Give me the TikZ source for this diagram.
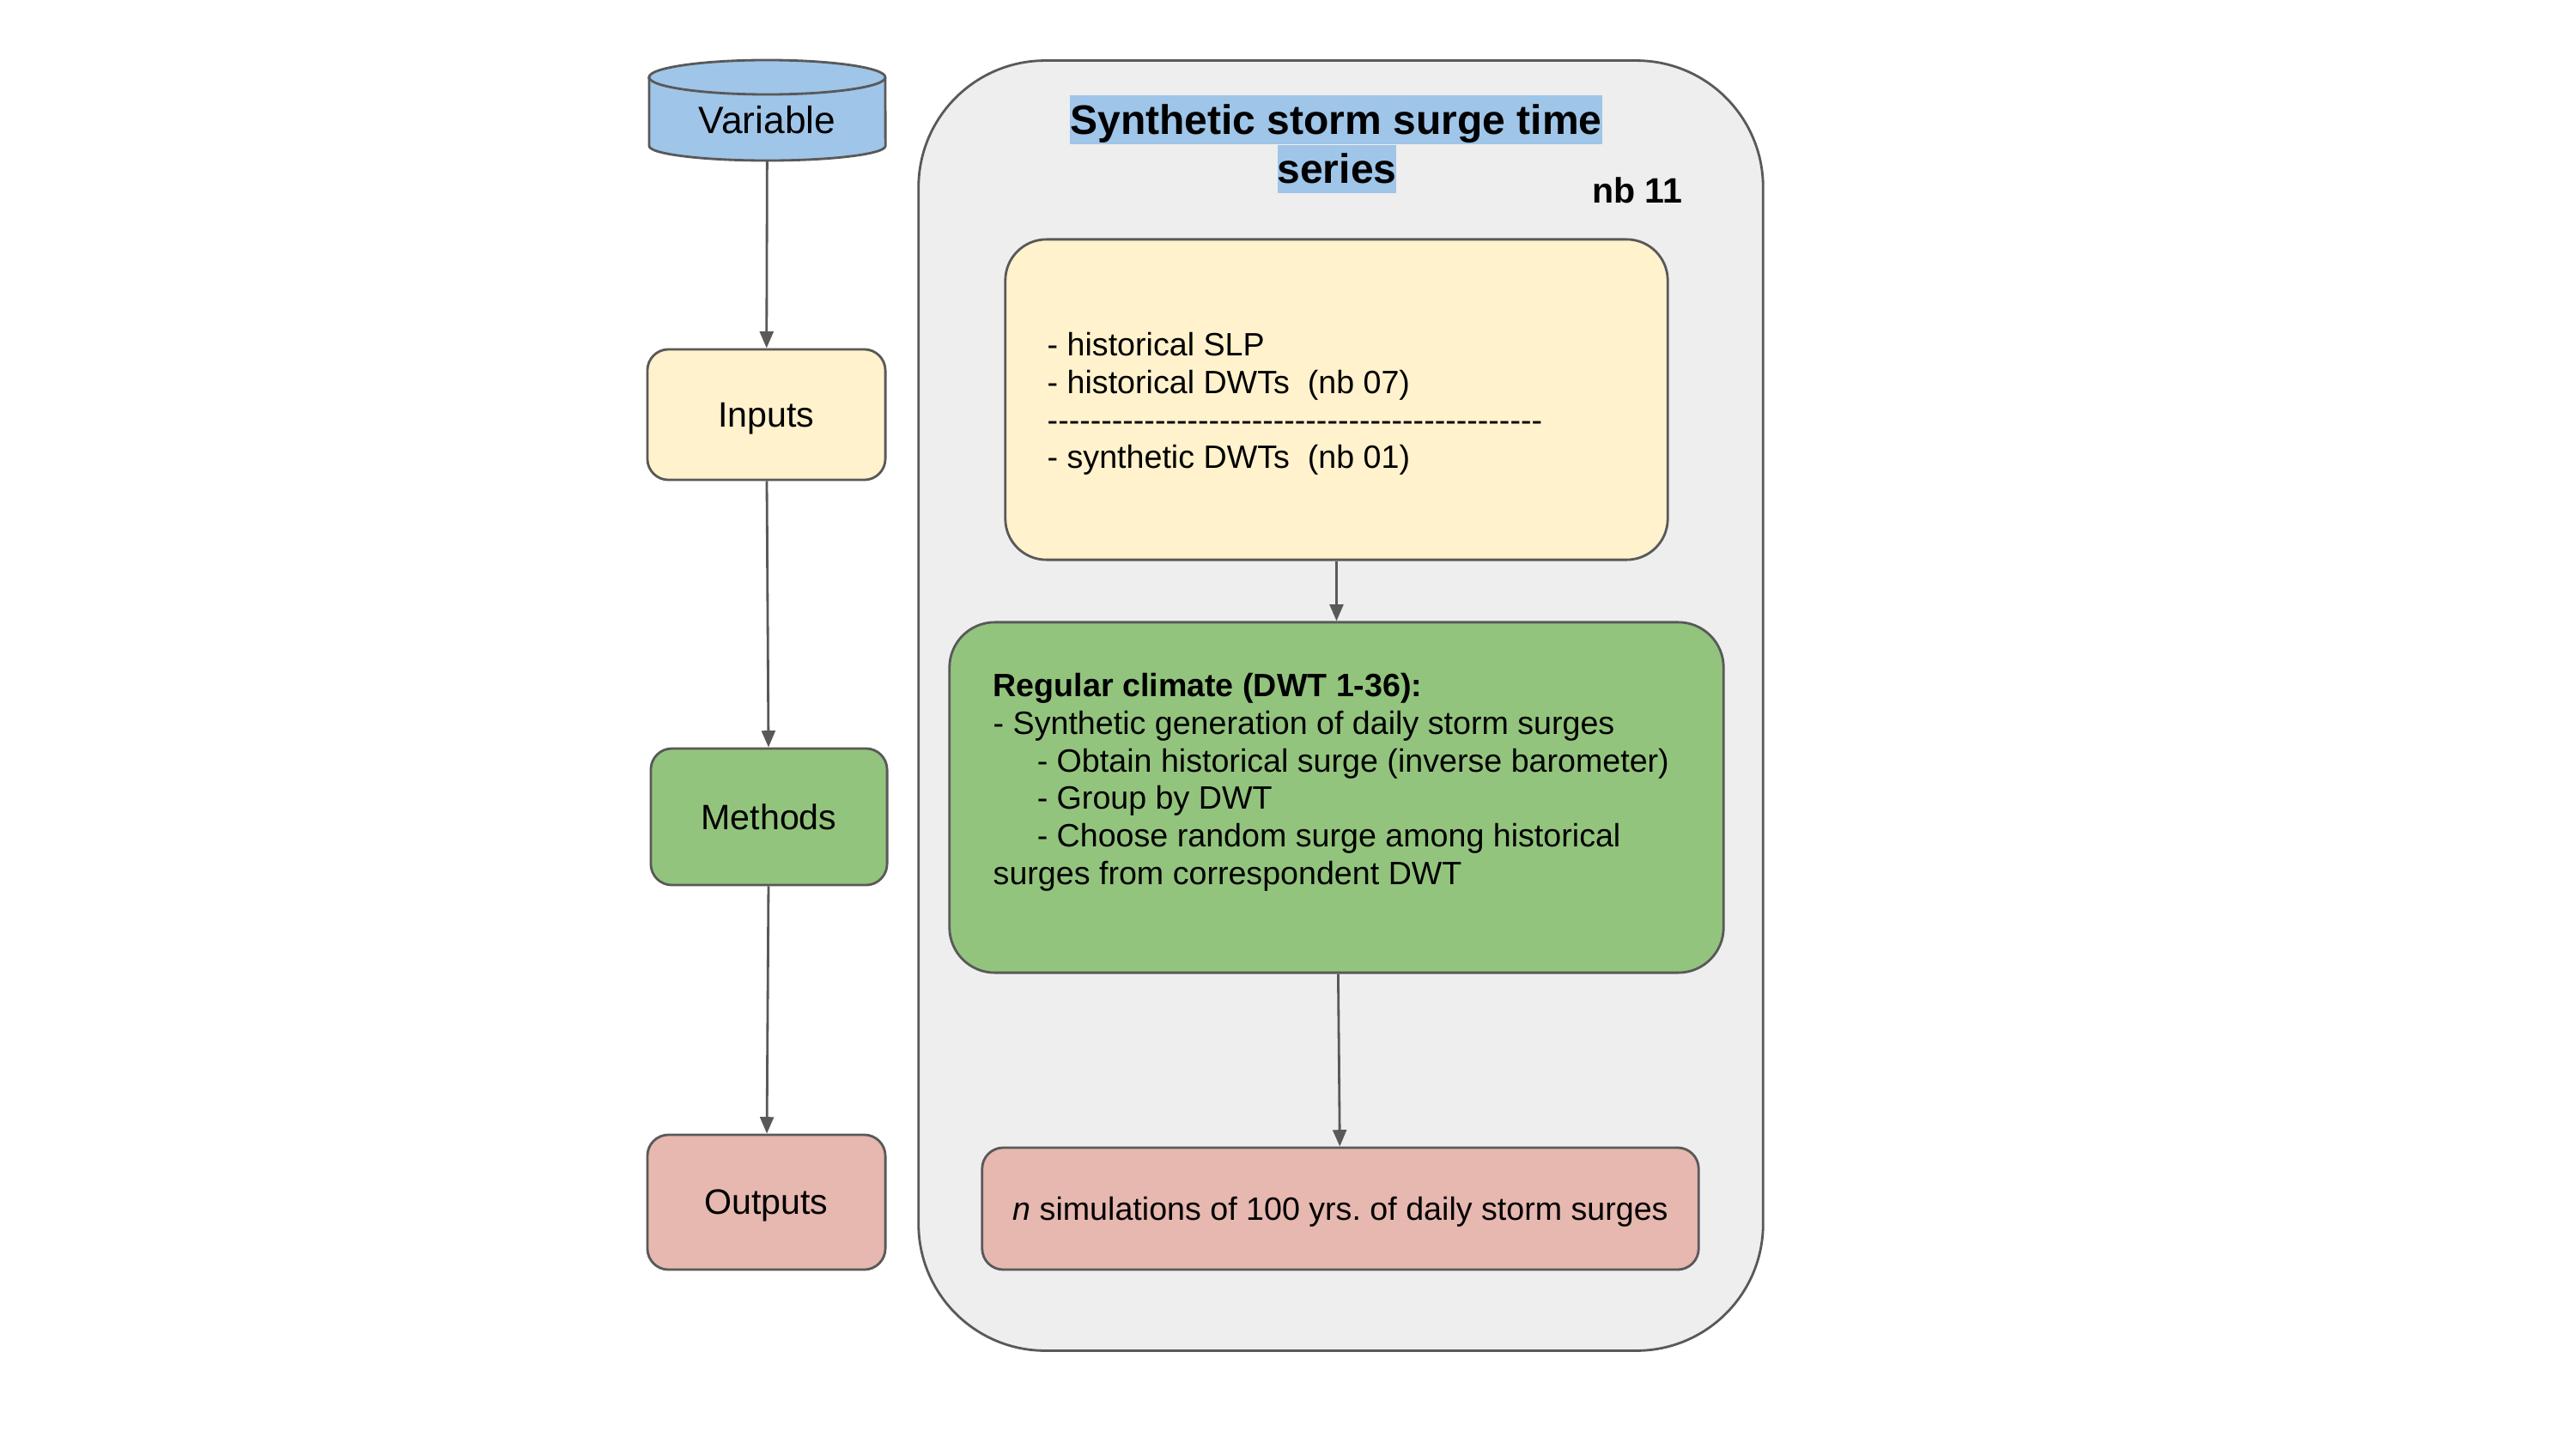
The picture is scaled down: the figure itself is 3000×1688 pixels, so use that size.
\documentclass[tikz,border=0pt]{standalone}
\usepackage{fontspec}
\setmainfont{Liberation Sans}
\frenchspacing
\usetikzlibrary{arrows.meta}
\definecolor{cBlue}{HTML}{9FC5E8}
\definecolor{cYellow}{HTML}{FFF2CC}
\definecolor{cGreen}{HTML}{93C47D}
\definecolor{cPink}{HTML}{E6B8AF}
\definecolor{cGray}{HTML}{EEEEEE}
\definecolor{cLine}{HTML}{595959}
\tikzset{
  box/.style={draw=cLine, line width=0.8pt, inner sep=0pt, rounded corners=7pt},
  lbl/.style={font=\fontsize{11.7pt}{14pt}\selectfont, text depth=0pt},
  body/.style={font=\fontsize{10.7pt}{12.4pt}\selectfont\frenchspacing, align=left, inner sep=0pt},
  hl/.style={fill=cBlue, inner sep=0pt, text height=12.8pt, text depth=3.4pt, font=\fontsize{13.66pt}{16pt}\selectfont\bfseries},
  conn/.style={draw=cLine, line width=0.8pt, -{Triangle[length=5.5pt,width=4.5pt]}},
}
\begin{document}
\begin{tikzpicture}[x=0.01cm,y=-0.01cm]
\useasboundingbox (0,0) rectangle (3000,1688);
\fill[white] (0,0) rectangle (3000,1688);

% container
\node[box, fill=cGray, rounded corners=42pt, minimum width=9.83cm, minimum height=15.02cm] (cont) at (1561.5,822) {};

% title
\node[hl] (t1) at (1556,139.5) {Synthetic storm surge time};
\node[hl] (t2) at (1557,197) {series};
\node[anchor=base east, inner sep=0pt, font=\fontsize{11.7pt}{14pt}\selectfont\bfseries] (nb) at (1960,237) {nb 11};

% cylinder
\filldraw[fill=cBlue, draw=cLine, line width=0.8pt]
  (756,90) -- (756,170) arc[start angle=180, end angle=360, x radius=1.375cm, y radius=0.17cm]
  -- (1031,90) arc[start angle=0, end angle=180, x radius=1.375cm, y radius=0.2cm] -- cycle;
\draw[cLine, line width=0.8pt] (756,90) arc[start angle=180, end angle=360, x radius=1.375cm, y radius=0.2cm];
\node[lbl, font=\fontsize{12.6pt}{15pt}\selectfont, inner sep=0pt, minimum width=2.75cm, minimum height=0.96cm] (var) at (893.5,139) {Variable};

% left column
\node[box, fill=cYellow, lbl, minimum width=2.77cm, minimum height=1.52cm] (inputs) at (892.5,483) {Inputs};
\node[box, fill=cGreen, lbl, minimum width=2.75cm, minimum height=1.59cm] (methods) at (895.5,951.5) {Methods};
\node[box, fill=cPink, lbl, minimum width=2.77cm, minimum height=1.57cm] (outputs) at (892.5,1400.5) {Outputs};

% inputs box
\node[box, fill=cYellow, rounded corners=13.6pt, minimum width=7.71cm, minimum height=3.73cm] (hist) at (1556.5,465.5) {};
\node[body, anchor=north west] (histtxt) at (1219,387) {- historical SLP\\- historical DWTs\ \ (nb 07)\\-{}-{}-{}-{}-{}-{}-{}-{}-{}-{}-{}-{}-{}-{}-{}-{}-{}-{}-{}-{}-{}-{}-{}-{}-{}-{}-{}-{}-{}-{}-{}-{}-{}-{}-{}-{}-{}-{}-{}-{}-{}-{}-{}-{}-{}-{}\\- synthetic DWTs\ \ (nb 01)};

% methods box
\node[box, fill=cGreen, rounded corners=15pt, minimum width=9.01cm, minimum height=4.08cm] (meth) at (1556.5,929) {};
\node[body, anchor=north west] (methtxt) at (1156,784) {\textbf{Regular climate (DWT 1-36):}\\- Synthetic generation of daily storm surges\\\hspace*{0.51cm}- Obtain historical surge (inverse barometer)\\\hspace*{0.51cm}- Group by DWT\\\hspace*{0.51cm}- Choose random surge among historical\\surges from correspondent DWT};

% output box
\node[box, fill=cPink, minimum width=8.34cm, minimum height=1.42cm, font=\fontsize{10.7pt}{12.4pt}\selectfont\frenchspacing, text depth=0pt] (out) at (1561,1408) {\textit{n} simulations of 100 yrs. of daily storm surges};

% connectors
\draw[conn] (var) -- (inputs);
\draw[conn] (inputs) -- (methods);
\draw[conn] (methods) -- (outputs);
\draw[conn] (hist) -- (meth);
\draw[conn] (meth) -- (out);
\end{tikzpicture}
\end{document}
